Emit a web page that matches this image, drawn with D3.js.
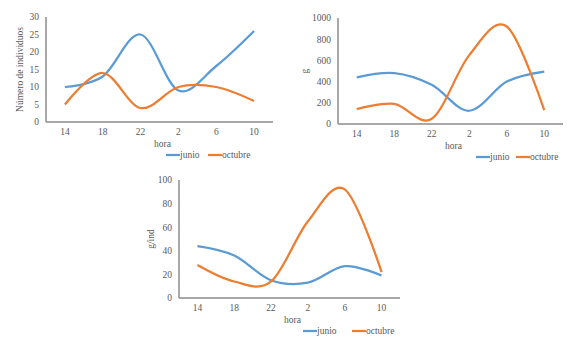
<!DOCTYPE html>
<html>
<head>
<meta charset="utf-8">
<script src="https://cdn.jsdelivr.net/npm/d3@7"></script>
<style>
  body { margin: 0; background: #fff; }
  text { font-family: "Liberation Serif", "DejaVu Serif", serif; fill: #595959; }
</style>
</head>
<body>
<script>
// data
const horas = ["14", "18", "22", "2", "6", "10"];

const individuosJunio = [10, 13, 25, 9, 16, 26];
const individuosOctubre = [5, 14, 4, 10, 10, 6];

const gJunio = [440, 480, 370, 125, 400, 495];
const gOctubre = [140, 190, 50, 650, 920, 130];

const gIndJunio = [44, 36, 15, 13, 27, 19];
const gIndOctubre = [28, 14, 14, 65, 92, 22];

const ticks1 = [0, 5, 10, 15, 20, 25, 30];
const ticks2 = [0, 200, 400, 600, 800, 1000];
const ticks3 = [0, 20, 40, 60, 80, 100];

const seriesNames = ["junio", "octubre"];
const colors = {junio: "#5b9bd5", octubre: "#ed7d31"};

const svg = d3.select("body").append("svg")
  .attr("width", 571)
  .attr("height", 340);

// one panel = one small excel style chart
function drawPanel(p) {
  const g = svg.append("g");
  const x = d3.scalePoint().domain(horas).range([p.left, p.right]).padding(0.5);
  const y = d3.scaleLinear().domain([0, d3.max(p.ticks)]).range([p.bottom, p.top]);

  // axis lines
  g.append("line")
    .attr("x1", p.left).attr("x2", p.left)
    .attr("y1", y(d3.max(p.ticks))).attr("y2", y(0))
    .attr("stroke", "#8c8c8c").attr("stroke-width", 1.5);
  g.append("line")
    .attr("x1", p.left).attr("x2", p.right)
    .attr("y1", y(0)).attr("y2", y(0))
    .attr("stroke", "#8c8c8c").attr("stroke-width", 1.5);

  // y tick labels
  g.selectAll(".yl").data(p.ticks).enter().append("text")
    .attr("x", p.left - 7)
    .attr("y", d => y(d))
    .attr("dy", "0.35em")
    .attr("text-anchor", "end")
    .style("font-size", "9.5px")
    .text(d => d);

  // x tick labels
  g.selectAll(".xl").data(horas).enter().append("text")
    .attr("x", d => x(d))
    .attr("y", y(0) + 13)
    .attr("text-anchor", "middle")
    .style("font-size", "9.5px")
    .text(d => d);

  // titles
  g.append("text")
    .attr("x", (p.left + p.right) / 2 + 3)
    .attr("y", y(0) + 25)
    .attr("text-anchor", "middle")
    .style("font-size", "9.5px")
    .text("hora");
  g.append("text")
    .attr("transform", `translate(${p.titleX}, ${(p.top + p.bottom) / 2}) rotate(-90)`)
    .attr("text-anchor", "middle")
    .style("font-size", "9.5px")
    .text(p.yTitle);

  // lines
  const line = d3.line()
    .x((d, i) => x(horas[i]))
    .y(d => y(d))
    .curve(d3.curveCatmullRom.alpha(0));
  [p.junio, p.octubre].forEach((vals, k) => {
    g.append("path")
      .datum(vals)
      .attr("d", line)
      .attr("fill", "none")
      .attr("stroke", colors[seriesNames[k]])
      .attr("stroke-width", 2.25);
  });

  // legend
  const lg = g.append("g").attr("transform", `translate(0, ${y(0) + 33})`);
  seriesNames.forEach((name, k) => {
    const lx = p.legendX[k];
    lg.append("line")
      .attr("x1", lx).attr("x2", lx + 14)
      .attr("y1", 0).attr("y2", 0)
      .attr("stroke", colors[name]).attr("stroke-width", 2.25);
    lg.append("text")
      .attr("x", lx + 14)
      .attr("y", 0)
      .attr("dy", "0.35em")
      .style("font-size", "9.5px")
      .text(name);
  });
}

drawPanel({
  left: 46, right: 273, top: 17, bottom: 122,
  ticks: ticks1, yTitle: "Número de individuos", titleX: 23,
  junio: individuosJunio, octubre: individuosOctubre,
  legendX: [166, 208]
});

drawPanel({
  left: 338, right: 563, top: 18, bottom: 124,
  ticks: ticks2, yTitle: "g", titleX: 308,
  junio: gJunio, octubre: gOctubre,
  legendX: [476, 516]
});

drawPanel({
  left: 179, right: 400, top: 180, bottom: 298,
  ticks: ticks3, yTitle: "g/ind", titleX: 154,
  junio: gIndJunio, octubre: gIndOctubre,
  legendX: [303, 352]
});
</script>
</body>
</html>
